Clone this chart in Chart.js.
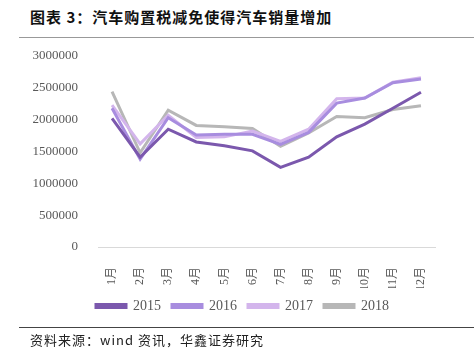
<!DOCTYPE html>
<html>
<head>
<meta charset="utf-8">
<script src="https://cdn.jsdelivr.net/npm/chart.js@4/dist/chart.umd.min.js"></script>
<style>
  body { margin: 0; width: 474px; height: 364px; background: #fff; position: relative; overflow: hidden; }
  #title { position: absolute; left: 30px; top: 6px; font: bold 15px "Noto Sans CJK SC", sans-serif; color: #111; letter-spacing: 1px; }
  #topLine { position: absolute; left: 19px; top: 37px; width: 455px; height: 1px; background: #999; }
  #bottomLine { position: absolute; left: 19px; top: 327px; width: 455px; height: 1px; background: #444; }
  #source { position: absolute; left: 30px; top: 330px; font: 13px "Noto Sans CJK SC", monospace; color: #222; letter-spacing: 1px; }
  #chart { position: absolute; left: 0; top: 0; }
</style>
</head>
<body>
<div id="title">图表 3：汽车购置税减免使得汽车销量增加</div>
<div id="topLine"></div>
<canvas id="chart" width="474" height="364"></canvas>
<div id="bottomLine"></div>
<div id="source">资料来源：wind 资讯，华鑫证券研究</div>
<script>
const months = ['1月','2月','3月','4月','5月','6月','7月','8月','9月','10月','11月','12月'];
const sales2015 = [2020000, 1410000, 1850000, 1650000, 1590000, 1510000, 1250000, 1410000, 1730000, 1930000, 2180000, 2430000];
const sales2016 = [2180000, 1380000, 2030000, 1760000, 1770000, 1770000, 1610000, 1800000, 2260000, 2340000, 2580000, 2640000];
const sales2017 = [2230000, 1620000, 2070000, 1720000, 1730000, 1820000, 1660000, 1850000, 2330000, 2340000, 2590000, 2660000];
const sales2018 = [2440000, 1480000, 2150000, 1910000, 1890000, 1860000, 1580000, 1790000, 2050000, 2030000, 2160000, 2220000];
const yTicks = [0, 500000, 1000000, 1500000, 2000000, 2500000, 3000000];

const colors = ['#7b58ad', '#a88ddf', '#d3b5ec', '#b7b7b7'];
const series = [['2015', sales2015], ['2016', sales2016], ['2017', sales2017], ['2018', sales2018]];

// nudge the legend so it sits centred on the page, not on the padded area
const legendShift = {
  id: 'legendShift',
  afterLayout(chart) {
    chart.legend.left += 25;
    chart.legend.right += 25;
  }
};

new Chart(document.getElementById('chart'), {
  type: 'line',
  data: {
    labels: months,
    datasets: series.map((s, i) => ({
      label: s[0],
      data: s[1],
      borderColor: colors[i],
      backgroundColor: colors[i],
      borderWidth: 3,
      pointRadius: 0,
      tension: 0
    }))
  },
  plugins: [legendShift],
  options: {
    responsive: false,
    animation: false,
    layout: { padding: { top: 56, right: 39, bottom: 41, left: 0 } },
    plugins: {
      legend: {
        position: 'bottom',
        labels: {
          boxWidth: 30,
          boxHeight: 3,
          padding: 11,
          color: '#595959',
          font: { family: '"Liberation Serif", serif', size: 14 }
        }
      },
      tooltip: { enabled: false }
    },
    scales: {
      x: {
        offset: true,
        grid: { display: false },
        border: { color: '#d9d9d9', width: 1 },
        afterFit: (scale) => { scale.height = 41; },
        ticks: {
          color: '#595959',
          autoSkip: false,
          minRotation: 90,
          maxRotation: 90,
          padding: 12,
          font: { family: '"Liberation Serif", "Noto Sans CJK SC", serif', size: 12 }
        }
      },
      y: {
        min: 0,
        max: 3000000,
        afterFit: (scale) => { scale.width = 98; },
        afterBuildTicks: (scale) => { scale.ticks = yTicks.map(v => ({ value: v })); },
        grid: { display: false },
        border: { display: false },
        ticks: {
          color: '#595959',
          padding: 12,
          callback: (v) => String(v),
          font: { family: '"Liberation Serif", serif', size: 13 }
        }
      }
    }
  }
});
</script>
</body>
</html>
